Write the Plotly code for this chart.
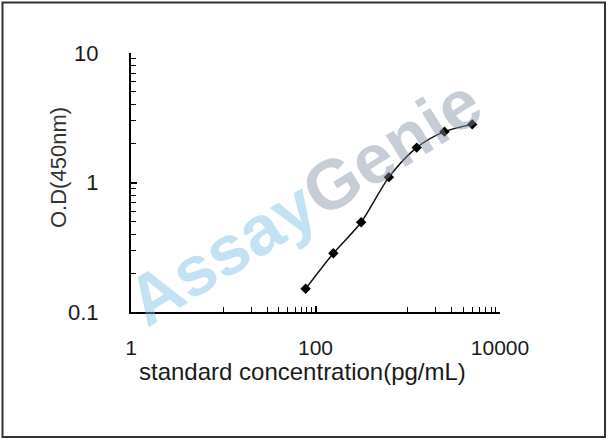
import plotly.graph_objects as go

# Data
concentration = [78.125, 156.25, 312.5, 625, 1250, 2500, 5000]
od450 = [0.151, 0.284, 0.493, 1.10, 1.86, 2.47, 2.81]

x_tick_vals = [1, 100, 10000]
x_tick_text = ["1", "100", "10000"]
x_minor_vals = [10, 20, 30, 40, 50, 60, 70, 80, 90,
                1000, 2000, 3000, 4000, 5000, 6000, 7000, 8000, 9000]
y_tick_vals = [0.1, 1, 10]
y_tick_text = ["0.1", "1", "10"]
y_minor_vals = [0.2, 0.3, 0.4, 0.5, 0.6, 0.7, 0.8, 0.9,
                2, 3, 4, 5, 6, 7, 8, 9]

x_title = "standard concentration(pg/mL)"
y_title = "O.D(450nm)"

FONT = "Arial, Liberation Sans, sans-serif"

fig = go.Figure()
fig.add_trace(go.Scatter(
    x=concentration, y=od450, mode="lines+markers",
    line=dict(color="#111111", width=1.5, shape="spline", smoothing=0.8),
    marker=dict(symbol="diamond", size=8, color="#000000"),
    showlegend=False,
))

fig.update_layout(
    width=608, height=441,
    margin=dict(l=131, r=108, t=53, b=129),
    paper_bgcolor="white", plot_bgcolor="white",
    font=dict(family=FONT, color="#1a1a1a", size=22),
    xaxis=dict(
        type="log", range=[0, 4],
        tickmode="array", tickvals=x_tick_vals, ticktext=x_tick_text,
        ticks="inside", ticklen=6, tickwidth=1.5, tickcolor="black",
        showline=True, linecolor="black", linewidth=2,
        showgrid=False, zeroline=False,
        tickfont=dict(size=21),
        ticklabelstandoff=16,
        minor=dict(tickmode="array", tickvals=x_minor_vals, ticks="inside",
                   ticklen=5, tickwidth=1.2, tickcolor="black", showgrid=False),
    ),
    yaxis=dict(
        type="log", range=[-1, 1],
        tickmode="array", tickvals=y_tick_vals, ticktext=y_tick_text,
        ticks="inside", ticklen=6, tickwidth=1.5, tickcolor="black",
        showline=True, linecolor="black", linewidth=2,
        showgrid=False, zeroline=False,
        tickfont=dict(size=22),
        ticklabelstandoff=26,
        minor=dict(tickmode="array", tickvals=y_minor_vals, ticks="inside",
                   ticklen=5, tickwidth=1.2, tickcolor="black", showgrid=False),
    ),
)

# axis titles
fig.add_annotation(text=x_title, xref="paper", yref="paper",
                   x=(302 - 131) / 369, y=(312 - 371) / 259,
                   showarrow=False, font=dict(size=24, family=FONT, color="#1a1a1a"),
                   xanchor="center", yanchor="middle")
fig.add_annotation(text=y_title, xref="paper", yref="paper",
                   x=(58 - 131) / 369, y=(312 - 168) / 259,
                   showarrow=False, textangle=-90,
                   font=dict(size=22, family=FONT, color="#333333"),
                   xanchor="center", yanchor="middle")

# watermark
fig.add_annotation(
    text="<b><span style='color:rgba(120,190,228,0.45)'>Assay</span>"
         "<span style='color:rgba(130,145,165,0.45)'>Genie</span></b>",
    xref="paper", yref="paper",
    x=(304 - 131) / 369, y=(312 - 202) / 259,
    showarrow=False, textangle=-32,
    font=dict(size=70, family=FONT),
    xanchor="center", yanchor="middle",
)

# outer frame
fig.add_shape(type="rect", xref="paper", yref="paper",
              x0=(2.5 - 131) / 369, x1=(605 - 131) / 369,
              y0=(312 - 437) / 259, y1=(312 - 2.5) / 259,
              line=dict(color="#333333", width=2), layer="above")

fig.write_html(
    "out.html",
    config={"displayModeBar": False},
    post_script="document.body.style.margin='0';document.body.style.overflow='hidden';",
)
